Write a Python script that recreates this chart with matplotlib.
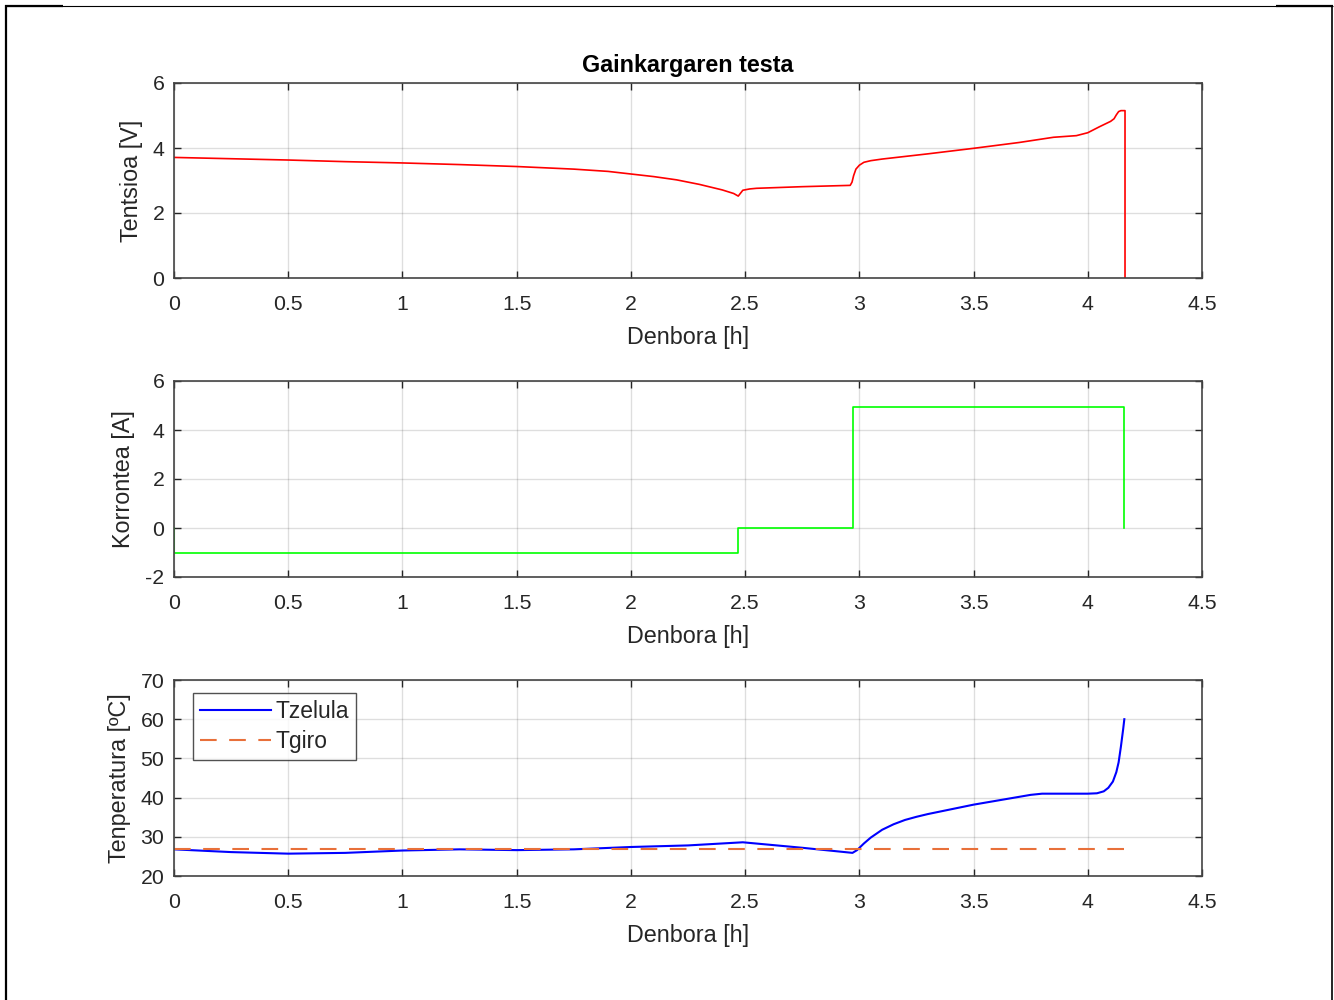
import matplotlib
matplotlib.use("Agg")
import matplotlib.pyplot as plt
from matplotlib.lines import Line2D

plt.rcParams['font.family'] = ['Liberation Sans', 'DejaVu Sans']

# Voltage during the overcharge test
time_v = [0.0, 0.25, 0.5, 0.75, 1.0, 1.25, 1.5, 1.75, 1.9, 2.0, 2.1, 2.2, 2.3, 2.4,
          2.45, 2.47, 2.49, 2.52, 2.55, 2.75, 2.96, 2.968, 2.975, 2.985, 3.0, 3.02,
          3.05, 3.1, 3.3, 3.5, 3.7, 3.85, 3.95, 4.0, 4.05, 4.1, 4.115, 4.125, 4.135,
          4.145, 4.163, 4.163]
voltage = [3.71, 3.67, 3.63, 3.58, 3.54, 3.49, 3.43, 3.35, 3.28, 3.20, 3.12, 3.02, 2.88, 2.71,
           2.60, 2.52, 2.70, 2.74, 2.76, 2.81, 2.85, 2.95, 3.15, 3.35, 3.47, 3.56,
           3.61, 3.66, 3.82, 3.99, 4.17, 4.33, 4.38, 4.47, 4.65, 4.82, 4.90, 5.02, 5.12,
           5.15, 5.15, 0.0]

# Applied current (step profile)
time_i = [0.0, 0.0, 2.47, 2.47, 2.973, 2.973, 4.159, 4.159]
current = [0.0, -1.0, -1.0, 0.0, 0.0, 4.95, 4.95, 0.0]

# Cell and ambient temperatures
time_t = [0.0, 0.25, 0.5, 0.75, 1.0, 1.25, 1.5, 1.75, 2.0, 2.25, 2.49, 2.75, 2.97,
          2.99, 3.02, 3.05, 3.1, 3.15, 3.2, 3.25, 3.3, 3.4, 3.5, 3.6, 3.7, 3.75, 3.8,
          3.9, 4.0, 4.04, 4.07, 4.09, 4.11, 4.125, 4.135, 4.145, 4.155, 4.16]
t_cell = [26.8, 26.1, 25.7, 25.9, 26.5, 26.8, 26.6, 26.8, 27.4, 27.8, 28.6, 27.2, 25.9,
          26.6, 28.3, 29.8, 31.8, 33.2, 34.3, 35.1, 35.8, 37.0, 38.2, 39.2, 40.2, 40.7, 41.0,
          41.0, 41.0, 41.1, 41.6, 42.5, 44.1, 46.5, 49.0, 53.0, 57.5, 60.0]
time_amb = [0.0, 4.16]
t_amb = [27.0, 27.0]

x_ticks = [0, 0.5, 1, 1.5, 2, 2.5, 3, 3.5, 4, 4.5]
x_ticklabels = ['0', '0.5', '1', '1.5', '2', '2.5', '3', '3.5', '4', '4.5']

TXT = '#262626'
FS_TICK = 15.3
FS_LABEL = 16.8

fig = plt.figure(figsize=(13.34, 10), dpi=100)

left, width = 174 / 1334, 1028 / 1334
ax_v = fig.add_axes([left, 0.722, width, 0.195])
ax_i = fig.add_axes([left, 0.423, width, 0.196])
ax_t = fig.add_axes([left, 0.124, width, 0.196])


def style(ax, yticks, ylabel):
    ax.set_xlim(0, 4.5)
    ax.set_xticks(x_ticks)
    ax.set_xticklabels(x_ticklabels)
    ax.set_yticks(yticks)
    ax.set_yticklabels([str(v) for v in yticks])
    ax.set_ylim(yticks[0], yticks[-1])
    ax.grid(True, color='#262626', alpha=0.15, linewidth=1.0)
    ax.set_axisbelow(True)
    ax.tick_params(direction='in', top=True, right=True, length=5, width=1.0,
                   colors=TXT, labelsize=FS_TICK, labelcolor=TXT)
    ax.tick_params(axis='x', pad=12)
    ax.tick_params(axis='y', pad=7)
    for sp in ax.spines.values():
        sp.set_color('#444444')
        sp.set_linewidth(1.2)
    ax.set_xlabel('Denbora [h]', fontsize=FS_LABEL, color=TXT, labelpad=9)
    ax.set_ylabel(ylabel, fontsize=FS_LABEL, color=TXT, labelpad=7)


ax_v.plot(time_v, voltage, color='#ff0000', linewidth=1.2)
style(ax_v, [0, 2, 4, 6], 'Tentsioa [V]')
ax_v.set_title('Gainkargaren testa', fontsize=FS_LABEL, fontweight='bold', color='black', pad=8)

ax_i.plot(time_i, current, color='#00ff00', linewidth=1.2)
style(ax_i, [-2, 0, 2, 4, 6], 'Korrontea [A]')

ax_t.plot(time_t, t_cell, color='#0000ff', linewidth=1.5, label='Tzelula')
ax_t.plot(time_amb, t_amb, color='#e8703a', linewidth=1.5, linestyle=(0, (8, 6)),
          label='Tgiro')
style(ax_t, [20, 30, 40, 50, 60, 70], 'Tenperatura [ºC]')
leg = ax_t.legend(loc='upper left', bbox_to_anchor=(19 / 1028, 1 - 13 / 196),
                  borderaxespad=0.0, fontsize=16.5, frameon=True, fancybox=False,
                  edgecolor='#262626', handlelength=3.1, handletextpad=0.2,
                  borderpad=0.3, labelspacing=0.3)
leg.get_frame().set_linewidth(1.0)
for txt in leg.get_texts():
    txt.set_color(TXT)

# Page frame around the figure
frame = dict(color='black', transform=fig.transFigure, solid_capstyle='butt')
fig.add_artist(Line2D([6 / 1334, 6 / 1334], [0, 1 - 5 / 1000], linewidth=1.6, **frame))
fig.add_artist(Line2D([1332 / 1334, 1332 / 1334], [0, 1 - 5 / 1000], linewidth=1.2, **frame))
fig.add_artist(Line2D([5 / 1334, 1333 / 1334], [1 - 5.5 / 1000, 1 - 5.5 / 1000], linewidth=0.8, **frame))
fig.add_artist(Line2D([5 / 1334, 63 / 1334], [1 - 5.5 / 1000, 1 - 5.5 / 1000], linewidth=1.6, **frame))
fig.add_artist(Line2D([1276 / 1334, 1333 / 1334], [1 - 5.5 / 1000, 1 - 5.5 / 1000], linewidth=1.6, **frame))

fig.savefig('out.png', dpi=100, facecolor='white')
